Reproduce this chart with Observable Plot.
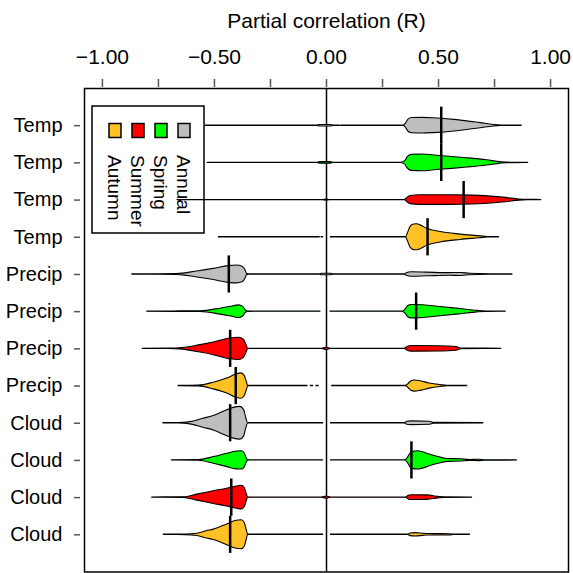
<!DOCTYPE html>
<html><head><meta charset="utf-8">
<script src="https://cdn.jsdelivr.net/npm/d3@7"></script>
<script src="https://cdn.jsdelivr.net/npm/@observablehq/plot@0.6"></script>
<style>
body{margin:0;background:#fff;}
#chart{width:573px;height:573px;}
</style></head><body><div id="chart"></div>
<script>
// ---- data ----
const rowLabels = ["Temp","Temp","Temp","Temp","Precip","Precip","Precip","Precip","Cloud","Cloud","Cloud","Cloud"];
const rowSeasons = ["Annual","Spring","Summer","Autumn","Annual","Spring","Summer","Autumn","Annual","Spring","Summer","Autumn"];
const medians = [0.512, 0.512, 0.612, 0.451, -0.436, 0.40, -0.43, -0.405, -0.43, 0.379, -0.425, -0.43];
const legendSeasons = ["Autumn","Summer","Spring","Annual"];
const seasonColors = ["#FFC125","#FF0000","#00FF00","#BEBEBE"];
const xTicks = [-1,-0.75,-0.5,-0.25,0,0.25,0.5,0.75,1];
const xTickLabels = ["−1.00","","−0.50","","0.00","","0.50","","1.00"];
const title = "Partial correlation (R)";

// bean outlines: [R value, half-width of density in row units]; null = gap
const tempAnnual = [[-0.54,0.004],[-0.04,0.004],[-0.03,0.02],[0.02,0.02],[0.03,0.004],[0.04,0.004],null,[0.042,0.004],[0.06,0.004],null,[0.065,0.004],[0.345,0.004],[0.357,0.08],[0.367,0.17],[0.382,0.205],[0.43,0.21],[0.479,0.2],[0.583,0.15],[0.6875,0.07],[0.747,0.02],[0.78,0.006],[0.871,0.004]];
const tempSpring = [[-0.53,0.004],[-0.04,0.004],[-0.03,0.02],[0.02,0.02],[0.03,0.004],[0.33,0.004],[0.35,0.04],[0.362,0.15],[0.38,0.215],[0.43,0.225],[0.48,0.2],[0.56,0.16],[0.628,0.125],[0.717,0.07],[0.777,0.02],[0.81,0.006],[0.90,0.004]];
const tempSummer = [[-0.665,0.004],[-0.015,0.004],[0,0.015],[0.015,0.004],[0.35,0.004],[0.36,0.05],[0.375,0.11],[0.42,0.13],[0.55,0.13],[0.65,0.12],[0.72,0.1],[0.8,0.06],[0.86,0.015],[0.9,0.005],[0.958,0.004]];
const tempAutumn = [[-0.48,0.004],[-0.03,0.004],null,[-0.022,0.004],[-0.015,0.004],null,[0.02,0.004],[0.355,0.004],[0.363,0.1],[0.375,0.28],[0.39,0.345],[0.405,0.35],[0.42,0.32],[0.449,0.23],[0.509,0.14],[0.598,0.072],[0.6875,0.025],[0.72,0.006],[0.77,0.004]];
const precipAnnual = [[-0.867,0.004],[-0.76,0.006],[-0.667,0.01],[-0.577,0.08],[-0.503,0.15],[-0.436,0.225],[-0.40,0.24],[-0.375,0.21],[-0.362,0.12],[-0.355,0.02],[-0.345,0.004],[-0.03,0.004],[-0.02,0.02],[0.02,0.02],[0.03,0.004],[0.35,0.004],[0.36,0.04],[0.38,0.06],[0.45,0.05],[0.55,0.035],[0.6,0.04],[0.64,0.02],[0.73,0.006],[0.83,0.004]];
const precipSpring = [[-0.80,0.004],[-0.68,0.006],[-0.5625,0.01],[-0.473,0.08],[-0.414,0.145],[-0.39,0.17],[-0.372,0.13],[-0.36,0.03],[-0.35,0.006],[-0.32,0.004],[-0.027,0.004],null,[0.018,0.004],[0.34,0.004],[0.352,0.05],[0.365,0.15],[0.38,0.18],[0.40,0.18],[0.509,0.125],[0.598,0.07],[0.673,0.02],[0.71,0.006],[0.80,0.004]];
const precipSummer = [[-0.82,0.004],[-0.70,0.006],[-0.652,0.015],[-0.5625,0.1],[-0.503,0.17],[-0.429,0.28],[-0.39,0.30],[-0.37,0.25],[-0.358,0.12],[-0.35,0.01],[-0.34,0.004],[-0.02,0.004],[0,0.03],[0.02,0.004],[0.35,0.004],[0.362,0.05],[0.38,0.075],[0.5,0.07],[0.58,0.05],[0.6,0.01],[0.78,0.004]];
const precipAutumn = [[-0.66,0.004],[-0.57,0.01],[-0.503,0.09],[-0.443,0.2],[-0.399,0.32],[-0.38,0.34],[-0.366,0.28],[-0.356,0.12],[-0.35,0.01],[-0.34,0.004],[-0.085,0.004],null,[-0.07,0.004],[-0.06,0.004],null,[-0.045,0.004],[-0.035,0.004],null,[0.025,0.004],[0.355,0.004],[0.367,0.06],[0.38,0.13],[0.395,0.15],[0.42,0.13],[0.46,0.07],[0.509,0.025],[0.54,0.006],[0.628,0.004]];
const cloudAnnual = [[-0.728,0.004],[-0.66,0.006],[-0.607,0.03],[-0.55,0.12],[-0.5,0.2],[-0.45,0.33],[-0.41,0.42],[-0.385,0.44],[-0.368,0.36],[-0.358,0.14],[-0.35,0.006],[-0.34,0.004],[-0.015,0.004],null,[0.02,0.004],[0.35,0.004],[0.36,0.04],[0.38,0.05],[0.46,0.04],[0.48,0.01],[0.70,0.004]];
const cloudSpring = [[-0.69,0.004],[-0.57,0.01],[-0.503,0.09],[-0.443,0.18],[-0.40,0.24],[-0.378,0.245],[-0.366,0.2],[-0.358,0.08],[-0.35,0.006],[-0.34,0.004],[-0.015,0.004],null,[0.02,0.004],[0.35,0.004],[0.36,0.04],[0.372,0.16],[0.385,0.235],[0.41,0.245],[0.43,0.22],[0.464,0.15],[0.50,0.09],[0.54,0.04],[0.6,0.03],[0.64,0.012],[0.68,0.02],[0.71,0.006],[0.85,0.004]];
const cloudSummer = [[-0.778,0.004],[-0.637,0.01],[-0.577,0.08],[-0.503,0.17],[-0.443,0.24],[-0.40,0.30],[-0.378,0.32],[-0.365,0.26],[-0.356,0.1],[-0.35,0.006],[-0.34,0.004],[-0.02,0.004],[0,0.03],[0.02,0.004],[0.355,0.004],[0.367,0.05],[0.38,0.065],[0.45,0.06],[0.5,0.02],[0.53,0.006],[0.65,0.004]];
const cloudAutumn = [[-0.726,0.004],[-0.63,0.008],[-0.577,0.03],[-0.533,0.1],[-0.503,0.14],[-0.443,0.28],[-0.406,0.37],[-0.378,0.39],[-0.365,0.32],[-0.356,0.13],[-0.35,0.006],[-0.34,0.004],[-0.015,0.004],null,[0.02,0.004],[0.365,0.004],[0.375,0.035],[0.4,0.045],[0.43,0.03],[0.45,0.02],[0.55,0.015],[0.57,0.004],[0.64,0.004]];

const profiles = [tempAnnual,tempSpring,tempSummer,tempAutumn,precipAnnual,precipSpring,precipSummer,precipAutumn,cloudAnnual,cloudSpring,cloudSummer,cloudAutumn];

// ---- build tables ----
const beans = profiles.flatMap((knots, i) => knots.map(k => ({
  row: i + 1, season: rowSeasons[i],
  x: k ? k[0] : NaN, w: k ? k[1] : NaN
})));
const rows = rowLabels.map((label, i) => ({row: i + 1, label, season: rowSeasons[i], median: medians[i]}));

const FONT = "'Liberation Sans', Arial, Helvetica, sans-serif";

const plot = Plot.plot({
  width: 573, height: 573,
  marginLeft: 84, marginRight: 5, marginTop: 88, marginBottom: 1.5,
  x: {domain: [-1.08, 1.08]},
  y: {domain: [0, 13], reverse: true},
  color: {domain: legendSeasons, range: seasonColors},
  style: {fontFamily: FONT, background: "white", color: "black"},
  marks: [
    Plot.axisX({anchor: "top", ticks: xTicks, tickFormat: d => xTickLabels[xTicks.indexOf(d)],
      tickSize: 8, tickPadding: 15, dy: -2, fontSize: 21, strokeWidth: 1.5, stroke: "#555", label: null}),
    Plot.axisY({anchor: "left", ticks: d3.range(1, 13), tickFormat: d => rowLabels[d - 1],
      tickSize: 6, tickPadding: 12, dx: -4, fontSize: 20, strokeWidth: 1.5, stroke: "#555", label: null}),
    Plot.ruleX([0], {stroke: "black", strokeWidth: 1.5}),
    Plot.areaY(beans, {x: "x", y1: d => d.row - d.w, y2: d => d.row + d.w, z: "row",
      fill: "season", stroke: "black", strokeWidth: 1.1, curve: "monotone-x"}),
    Plot.ruleX(rows, {x: "median", y1: d => d.row - 0.5, y2: d => d.row + 0.5, stroke: "black", strokeWidth: 2.5}),
    Plot.frame({stroke: "black", strokeWidth: 1.5}),
    Plot.text([title], {frameAnchor: "top", dy: -75, fontSize: 21})
  ]
});

// ---- legend (drawn under the data) ----
const svg = d3.select(plot);
const lg = svg.insert("g", ":first-child").attr("font-family", FONT);
lg.append("rect").attr("x", 92).attr("y", 106).attr("width", 112).attr("height", 127)
  .attr("fill", "white").attr("stroke", "black").attr("stroke-width", 1.5);
legendSeasons.forEach((s, i) => {
  const cx = 115 + i * 23;
  lg.append("rect").attr("x", cx - 6).attr("y", 123.5).attr("width", 12).attr("height", 14)
    .attr("fill", seasonColors[i]).attr("stroke", "black").attr("stroke-width", 1.5);
  lg.append("text").attr("transform", `translate(${cx},155) rotate(90)`)
    .attr("text-anchor", "start").attr("dy", "0.35em")
    .attr("font-size", 19).attr("fill", "black").text(s);
});

document.getElementById("chart").appendChild(plot);
</script>
</body></html>
